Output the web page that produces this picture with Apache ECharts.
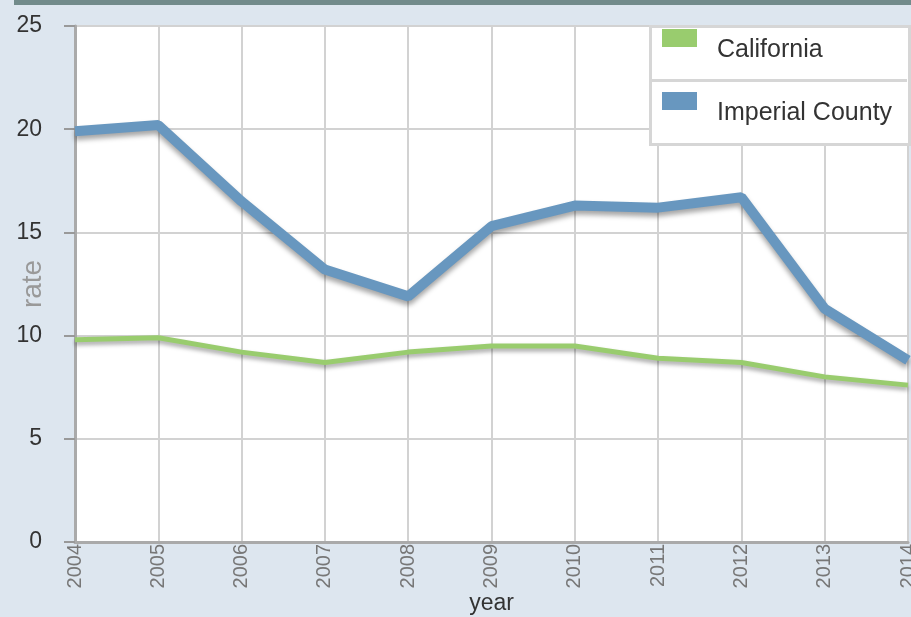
<!DOCTYPE html>
<html>
<head>
<meta charset="utf-8">
<script src="https://cdn.jsdelivr.net/npm/echarts@6/dist/echarts.min.js"></script>
<style>
  html, body { margin: 0; padding: 0; background: #dde6ef; }
  #chart { width: 911px; height: 617px; }
</style>
</head>
<body>
<div id="chart"></div>
<script>
const years = ['2004', '2005', '2006', '2007', '2008', '2009', '2010', '2011', '2012', '2013', '2014'];
const california = [9.8, 9.9, 9.2, 8.7, 9.2, 9.5, 9.5, 8.9, 8.7, 8.0, 7.6];
const imperialCounty = [19.9, 20.2, 16.5, 13.2, 11.9, 15.3, 16.3, 16.2, 16.7, 11.3, 8.8];

const myChart = echarts.init(document.getElementById('chart'), null, { renderer: 'canvas' });

// legend text sits lower than its swatch, so push it down with rich padding
const legendBase = {
  orient: 'vertical',
  icon: 'rect',
  itemWidth: 35,
  itemHeight: 18,
  padding: 0,
  formatter: '{t|{name}}',
  textStyle: {
    rich: {
      t: {
        fontFamily: 'Liberation Sans, Arial',
        fontSize: 25,
        color: '#333',
        padding: [24, 0, 0, 15]
      }
    }
  },
  selectedMode: false
};

const option = {
  animation: false,
  backgroundColor: '#dde6ef',
  color: ['#99cc6e', '#6897bf'],
  graphic: [
    { type: 'rect', left: 14, top: 0, shape: { width: 897, height: 5 }, style: { fill: '#728b8b' }, z: 100 },
    // legend box
    { type: 'rect', left: 649, top: 25, shape: { width: 259, height: 118 }, style: { fill: '#fff', stroke: '#d6d6d6', lineWidth: 3 }, z: 10 },
    { type: 'rect', left: 650, top: 79, shape: { width: 257, height: 3 }, style: { fill: '#d6d6d6' }, z: 11 }
  ],
  legend: [
    Object.assign({}, legendBase, { left: 662, top: 29, data: ['California'], z: 20 }),
    Object.assign({}, legendBase, { left: 662, top: 92, data: ['Imperial County'], z: 20 })
  ],
  grid: {
    left: 75,
    top: 26,
    right: 3,
    bottom: 75,
    outerBoundsMode: 'none',
    show: true,
    backgroundColor: '#fff',
    borderColor: '#bbb',
    borderWidth: 2
  },
  xAxis: {
    type: 'category',
    data: years,
    boundaryGap: false,
    name: 'year',
    nameLocation: 'middle',
    nameGap: 50,
    nameMoveOverlap: false,
    nameTextStyle: { fontFamily: 'Liberation Sans, Arial', fontSize: 23, color: '#333' },
    axisLine: { lineStyle: { color: '#aaa', width: 3 } },
    axisTick: { show: false },
    axisLabel: {
      rotate: 90,
      margin: 2,
      fontFamily: 'Liberation Sans, Arial',
      fontSize: 20,
      color: '#777'
    },
    splitLine: { show: true, lineStyle: { color: '#d2d2d2', width: 2 } }
  },
  yAxis: {
    type: 'value',
    min: 0,
    max: 25,
    interval: 5,
    name: 'rate',
    nameLocation: 'middle',
    nameGap: 28,
    nameMoveOverlap: false,
    nameTextStyle: { fontFamily: 'Liberation Sans, Arial', fontSize: 28, color: '#999' },
    axisLine: { show: true, lineStyle: { color: '#aaa', width: 3 } },
    axisTick: { show: true, inside: false, length: 11, lineStyle: { color: '#999', width: 2 } },
    axisLabel: {
      margin: 33,
      fontFamily: 'Liberation Sans, Arial',
      fontSize: 23,
      color: '#333'
    },
    splitLine: { show: true, lineStyle: { color: '#d2d2d2', width: 2 } }
  },
  series: [
    {
      name: 'California',
      type: 'line',
      data: california,
      symbol: 'none',
      lineStyle: {
        width: 5,
        color: '#99cc6e',
        shadowColor: 'rgba(0,0,0,0.35)',
        shadowBlur: 4,
        shadowOffsetY: 3
      },
      z: 3
    },
    {
      name: 'Imperial County',
      type: 'line',
      data: imperialCounty,
      symbol: 'none',
      lineStyle: {
        width: 10,
        color: '#6897bf',
        shadowColor: 'rgba(0,0,0,0.35)',
        shadowBlur: 5,
        shadowOffsetY: 4
      },
      z: 4
    }
  ]
};

myChart.setOption(option);
</script>
</body>
</html>
